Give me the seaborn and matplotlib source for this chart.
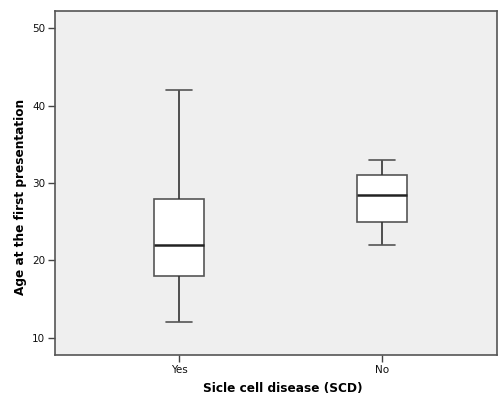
import pandas as pd
import matplotlib
matplotlib.use("Agg")
import matplotlib.pyplot as plt
import seaborn as sns

# valores (min, Q1, mediana, Q3, max)
idade_scd_sim = [12, 18, 22, 28, 42]
idade_scd_nao = [22, 25, 28.5, 31, 33]
categorias = ['Yes', 'No']
y_ticks = [10, 20, 30, 40, 50]

df = pd.DataFrame({
    'scd': [categorias[0]] * len(idade_scd_sim) + [categorias[1]] * len(idade_scd_nao),
    'idade': idade_scd_sim + idade_scd_nao,
})

sns.set_theme(style="white")
plt.rcParams['font.family'] = ['DejaVu Sans']

fig = plt.figure(figsize=(4.98, 3.96), dpi=100)
ax = fig.add_axes([0.1104, 0.1035, 0.8876, 0.8687])
ax.set_facecolor('#efefef')

sns.boxplot(
    data=df, x='scd', y='idade', order=categorias, ax=ax,
    width=0.25, whis=1.5, color='white', linecolor='#555555', linewidth=1.2,
    medianprops={'color': '#222222', 'linewidth': 1.8},
    whiskerprops={'color': '#333333'},
    capprops={'color': '#555555'},
)

ax.set_xlim(-0.611, 1.567)
ax.set_ylim(7.8, 52.2)
ax.set_yticks(y_ticks)
ax.tick_params(axis='both', direction='out', length=5, width=1, color='#444444',
               labelsize=7.5, labelcolor='#111111', pad=2, left=True, bottom=True)
for s in ax.spines.values():
    s.set_color('#555555')
    s.set_linewidth(1.2)

ax.set_ylabel('Age at the first presentation', fontsize=8.7, fontweight='bold', color='black')
ax.set_xlabel('Sicle cell disease (SCD)', fontsize=8.7, fontweight='bold', color='black')
ax.yaxis.set_label_coords(-0.064, 0.46)
ax.xaxis.set_label_coords(0.516, -0.077)

fig.savefig('out.png', dpi=100)
